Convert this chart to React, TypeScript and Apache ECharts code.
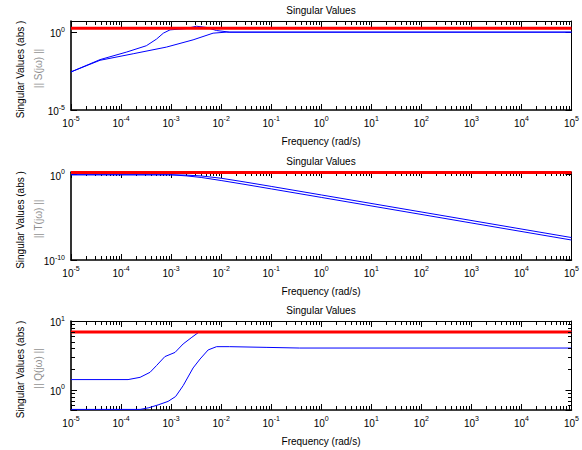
import React, { useEffect, useRef } from "react";
import * as echarts from "echarts";

const FONT = '"Liberation Sans", Arial, Helvetica, sans-serif';

// Frequency axis (rad/s), logarithmic
const freqMin = 1e-5;
const freqMax = 0.9999e5;

// Plot 1: || S(jω) ||
const sBoundFreq = [1e-5, 1e5];
const sBoundVal = [1.8, 1.8];
const sFreqA = [1e-5, 3.8e-5, 1.3e-4, 3.2e-4, 5.1e-4, 7e-4, 9.5e-4, 2.0e-3, 3.2e-3, 5.1e-3, 8.1e-3, 1.48e-2, 1e5];
const sValA = [0.0028, 0.0172, 0.053, 0.134, 0.356, 0.86, 1.4, 1.7, 2.4, 2.0, 1.27, 1.0, 1.0];
const sFreqB = [1e-5, 3.8e-5, 1.75e-4, 8.1e-4, 2.75e-3, 6.9e-3, 1.26e-2, 1e5];
const sValB = [0.0028, 0.0156, 0.041, 0.11, 0.32, 0.86, 1.0, 1.0];

// Plot 2: || T(jω) ||
const tBoundFreq = [1e-5, 1e5];
const tBoundVal = [1.8, 1.8];
const tFreq = [1e-5, 1e-3, 2e-3, 4e-3, 1e-2, 3e-2, 1e-1, 1, 1e5];
const tValA = [1.0, 0.99, 0.9, 0.72, 0.39, 0.14, 0.043, 4.3e-3, 4.3e-8];
const tValB = [1.0, 0.98, 0.74, 0.48, 0.21, 0.073, 0.022, 2.2e-3, 2.2e-8];

// Plot 3: || Q(jω) ||
const qBoundFreq = [1e-5, 1e5];
const qBoundVal = [6.9, 6.9];
const qFreqA = [1e-5, 1.38e-4, 2.4e-4, 3.8e-4, 5.1e-4, 7.5e-4, 1.2e-3, 1.74e-3, 2.6e-3, 3.6e-3, 1e5];
const qValA = [1.41, 1.41, 1.52, 1.8, 2.25, 3.04, 3.5, 4.64, 5.8, 6.9, 6.9];
const qFreqB = [1e-5, 2.4e-4, 3.6e-4, 5.5e-4, 8.7e-4, 1.23e-3, 1.74e-3, 2.75e-3, 3.8e-3, 5.5e-3, 8.1e-3, 1.48e-2, 7.9e-2, 0.37, 1e5];
const qValB = [0.52, 0.52, 0.55, 0.605, 0.68, 0.8, 1.15, 2.08, 2.81, 3.8, 4.24, 4.24, 4.14, 4.05, 4.05];

// Axis ranges and texts
const yRanges = [
  [1e-5, 5.2],
  [1e-10, 2.1],
  [0.51, 10],
];
const plotTitle = "Singular Values";
const xName = "Frequency (rad/s)";
const yName = "Singular Values (abs )";
const yNames2 = ["|| S(j\u03c9) ||", "|| T(j\u03c9) ||", "|| Q(j\u03c9) ||"];

const qYMinor = [0.6, 0.7, 0.8, 0.9, 2, 3, 4, 5, 6, 7, 8, 9];

const grids = [
  { left: 71, top: 21, width: 501, height: 89 },
  { left: 71, top: 172, width: 501, height: 88 },
  { left: 71, top: 321, width: 501, height: 89 },
];

const zip = (a: number[], b: number[]) => a.map((v, i) => [v, b[i]]);

const powLabel = (v: number) => {
  const e = Math.log10(v);
  const r = Math.round(e);
  if (Math.abs(e - r) > 0.002) return "";
  return `{b|10}{s|${r}}`;
};

const rich = {
  b: { fontSize: 10, fontFamily: FONT, color: "#000", lineHeight: 13, verticalAlign: "bottom" },
  s: { fontSize: 7, fontFamily: FONT, color: "#000", lineHeight: 13, verticalAlign: "top" },
};

const majorTick = { show: true, inside: true, length: 6, lineStyle: { color: "#000", width: 1 } };
const minorTick = { show: true, splitNumber: 9, length: 4, lineStyle: { color: "#000", width: 1 } };

export default function App() {
  const ref = useRef<HTMLDivElement>(null);
  useEffect(() => {
    if (!ref.current) return;
    const chart = echarts.init(ref.current, null, { renderer: "svg" });

    const xAxis: any[] = [];
    const yAxis: any[] = [];
    grids.forEach((_, i) => {
      xAxis.push({
        type: "log",
        gridIndex: i,
        position: "bottom",
        min: freqMin,
        max: freqMax,
        splitNumber: 10,
        axisLine: { show: true, lineStyle: { color: "#000", width: 1.6 } },
        axisTick: majorTick,
        minorTick,
        axisLabel: { show: true, margin: 5, interval: 0, showMinLabel: true, showMaxLabel: true, formatter: powLabel, rich, hideOverlap: false },
        splitLine: { show: false },
        minorSplitLine: { show: false },
      });
      xAxis.push({
        type: "log",
        gridIndex: i,
        position: "top",
        min: freqMin,
        max: freqMax,
        splitNumber: 10,
        axisLine: { show: true, lineStyle: { color: "#000", width: 1 } },
        axisTick: majorTick,
        minorTick,
        axisLabel: { show: false },
        splitLine: { show: false },
        minorSplitLine: { show: false },
      });
      yAxis.push({
        type: "log",
        gridIndex: i,
        position: "left",
        min: yRanges[i][0],
        max: yRanges[i][1],
        splitNumber: 1,
        axisLine: { show: true, lineStyle: { color: "#000", width: 1.6 } },
        axisTick: majorTick,
        axisLabel: { show: true, margin: 6, showMinLabel: true, showMaxLabel: true, formatter: powLabel, rich, hideOverlap: false },
        splitLine: { show: false },
      });
      yAxis.push({
        type: "log",
        gridIndex: i,
        position: "right",
        min: yRanges[i][0],
        max: yRanges[i][1],
        splitNumber: 1,
        axisLine: { show: true, lineStyle: { color: "#000", width: 1 } },
        axisTick: majorTick,
        axisLabel: { show: false },
        splitLine: { show: false },
      });
    });

    const line = (grid: number, data: number[][], color: string, width: number) => ({
      type: "line",
      xAxisIndex: grid * 2,
      yAxisIndex: grid * 2,
      data,
      showSymbol: false,
      symbol: "none",
      clip: false,
      silent: true,
      lineStyle: { color, width },
      z: 3,
    });

    const series: any[] = [
      line(0, zip(sFreqB, sValB), "#0000ff", 1),
      line(0, zip(sFreqA, sValA), "#0000ff", 1),
      line(0, zip(sBoundFreq, sBoundVal), "#ff0000", 3),
      line(1, zip(tFreq, tValA), "#0000ff", 1),
      line(1, zip(tFreq, tValB), "#0000ff", 1),
      line(1, zip(tBoundFreq, tBoundVal), "#ff0000", 3),
      line(2, zip(qFreqB, qValB), "#0000ff", 1),
      line(2, zip(qFreqA, qValA), "#0000ff", 1),
      line(2, zip(qBoundFreq, qBoundVal), "#ff0000", 3),
    ];

    const cx = 321;
    const texts: any[] = [];
    grids.forEach((g, i) => {
      const mid = g.top + g.height / 2;
      texts.push({
        type: "text",
        x: cx,
        y: g.top - 11,
        style: { text: plotTitle, fontSize: 10, fontFamily: FONT, fill: "#000", align: "center", verticalAlign: "middle" },
      });
      texts.push({
        type: "text",
        x: cx,
        y: g.top + g.height + 31,
        style: { text: xName, fontSize: 10, fontFamily: FONT, fill: "#000", align: "center", verticalAlign: "middle" },
      });
      texts.push({
        type: "text",
        x: 20,
        y: mid + 4,
        rotation: Math.PI / 2,
        style: { text: yName, fontSize: 10, fontFamily: FONT, fill: "#000", align: "center", verticalAlign: "middle" },
      });
      texts.push({
        type: "text",
        x: 38,
        y: mid + 3,
        rotation: Math.PI / 2,
        style: { text: yNames2[i], fontSize: 10, fontFamily: FONT, fill: "#8f8f8f", align: "center", verticalAlign: "middle" },
      });
    });

    chart.setOption({
      animation: false,
      backgroundColor: "#fff",
      grid: grids.map((g) => ({ ...g, containLabel: false })),
      xAxis,
      yAxis,
      series,
    });

    // minor ticks of the Q plot's y axis, placed through that axis' log scale
    const ticks: any[] = [];
    const g = grids[2];
    const left = g.left;
    const right = g.left + g.width;
    qYMinor.forEach((v) => {
      const py: any = chart.convertToPixel({ yAxisIndex: 4 } as any, v as any);
      if (typeof py !== "number" || !isFinite(py)) return;
      const y = Math.round(py);
      ticks.push({ type: "rect", z: 100, shape: { x: left, y: y, width: 4, height: 1 }, style: { fill: "#000" } });
      ticks.push({ type: "rect", z: 100, shape: { x: right - 4, y: y, width: 4, height: 1 }, style: { fill: "#000" } });
    });

    chart.setOption({ graphic: { elements: [...texts, ...ticks] } });
    return () => chart.dispose();
  }, []);
  return <div ref={ref} style={{ position: "fixed", left: 0, top: 0, width: 582, height: 450 }} />;
}
